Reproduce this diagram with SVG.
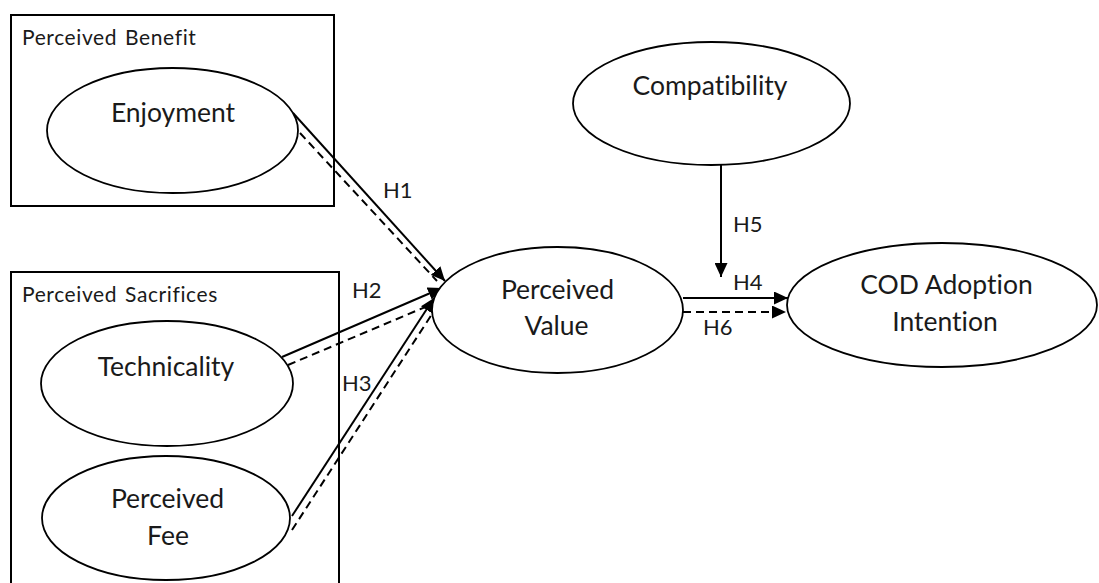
<svg xmlns="http://www.w3.org/2000/svg" width="1099" height="583" viewBox="0 0 1099 583">
<style>
.box{fill:none;stroke:#000;stroke-width:2}
.node{fill:#fff;stroke:#000;stroke-width:1.8}
.t{font-family:Lato,"Liberation Sans",sans-serif;fill:#1a1a1a;text-anchor:middle;font-variant-ligatures:none}
.big{font-size:26.5px}
.ttl{font-size:21px;text-anchor:start;letter-spacing:0.6px;word-spacing:2px}
.lbl{font-size:22px;text-anchor:start}
.c{stroke:#000;stroke-width:2;fill:none}
.d{stroke:#000;stroke-width:2;fill:none;stroke-dasharray:8 5}
</style>
<defs>
<marker id="arr" markerUnits="userSpaceOnUse" markerWidth="15" markerHeight="13" refX="14" refY="6.5" orient="auto">
<path d="M0,0 L14,6.5 L0,13 z" fill="#000"/>
</marker>
</defs>
<rect width="1099" height="583" fill="#fff"/>
<g id="group-benefit">
<rect class="box" x="11" y="15" width="323" height="191"/>
<text class="t ttl" x="22" y="45">Perceived Benefit</text>
</g>
<g id="group-sacrifices">
<path class="box" d="M11,583 V272 H339 V583"/>
<text class="t ttl" x="22" y="302">Perceived Sacrifices</text>
</g>
<g id="connectors">
<line class="c" x1="293" y1="113" x2="445" y2="281" marker-end="url(#arr)"/>
<line class="d" x1="300" y1="133" x2="437" y2="281"/>
<line class="c" x1="282" y1="357" x2="442" y2="288" marker-end="url(#arr)"/>
<line class="d" x1="288" y1="365" x2="430" y2="305"/>
<line class="c" x1="292" y1="516" x2="434" y2="298" marker-end="url(#arr)"/>
<line class="d" x1="292" y1="530" x2="434" y2="311"/>
<line class="c" x1="683" y1="298" x2="788" y2="298" marker-end="url(#arr)"/>
<line class="d" x1="683" y1="312" x2="786" y2="312" marker-end="url(#arr)"/>
<line class="c" x1="721" y1="165" x2="721" y2="277" marker-end="url(#arr)"/>
<text class="t lbl" x="383" y="198">H1</text>
<text class="t lbl" x="352" y="298">H2</text>
<text class="t lbl" x="342" y="391">H3</text>
<text class="t lbl" x="733" y="290">H4</text>
<text class="t lbl" x="733" y="232">H5</text>
<text class="t lbl" x="703" y="335">H6</text>
</g>
<g id="enjoyment">
<ellipse class="node" cx="172.5" cy="130.5" rx="125.5" ry="62.5"/>
<text class="t big" x="173" y="122">Enjoyment</text>
</g>
<g id="technicality">
<ellipse class="node" cx="167" cy="383.5" rx="126" ry="62.5"/>
<text class="t big" x="166" y="376">Technicality</text>
</g>
<g id="perceived-fee">
<ellipse class="node" cx="166" cy="518" rx="124" ry="62"/>
<text class="t big" x="167.5" y="508">Perceived</text>
<text class="t big" x="168" y="545">Fee</text>
</g>
<g id="perceived-value">
<ellipse class="node" cx="557.5" cy="310" rx="125.5" ry="63"/>
<text class="t big" x="557.5" y="299">Perceived</text>
<text class="t big" x="556.5" y="335">Value</text>
</g>
<g id="compatibility">
<ellipse class="node" cx="711.5" cy="103.5" rx="138.5" ry="61.5"/>
<text class="t big" x="710" y="95">Compatibility</text>
</g>
<g id="cod-adoption-intention">
<ellipse class="node" cx="942" cy="305" rx="155" ry="62"/>
<text class="t big" x="946.5" y="294">COD Adoption</text>
<text class="t big" x="945" y="331">Intention</text>
</g>
</svg>
